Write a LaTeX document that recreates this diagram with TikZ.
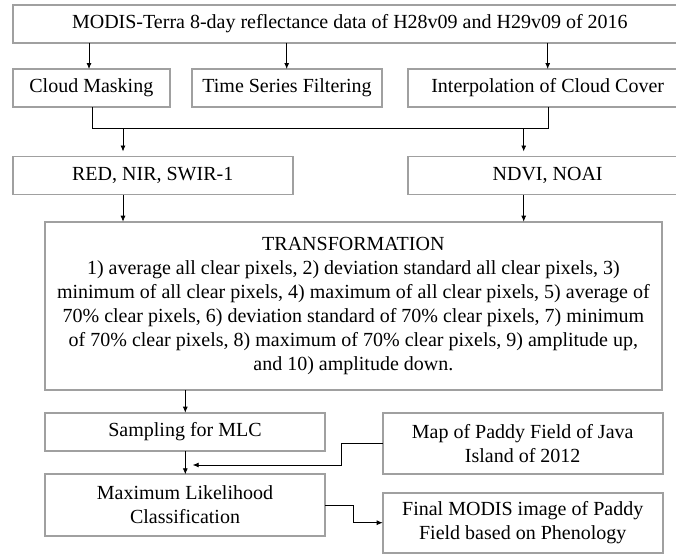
\documentclass[tikz,border=0pt]{standalone}
\usepackage{fontspec}
\setmainfont{Liberation Serif}
\newfontfamily\diagfont{Liberation Serif}
\usetikzlibrary{arrows.meta}
\definecolor{boxgray}{RGB}{160,160,160}
\begin{document}
\begin{tikzpicture}[x=1pt,y=-1pt,
  box/.style={draw=boxgray, line width=1.8pt, inner sep=0pt, outer sep=0pt,
              align=center, font=\diagfont\fontsize{20}{24}\selectfont},
  link/.style={line width=0.8pt, black},
  arr/.style={link, -{Latex[length=6pt,width=5pt]}}]
\useasboundingbox (0,0) rectangle (676,554);
\clip (0,0) rectangle (676,554);

% boxes
\node[box, minimum width=674.3pt, minimum height=37.7pt] (top) at (349.85,23.85)
  {MODIS-Terra 8-day reflectance data of H28v09 and H29v09 of 2016};
\node[box, minimum width=157.3pt, minimum height=38pt] (cloud) at (91.35,88) {Cloud Masking};
\node[box, minimum width=190.6pt, minimum height=38pt] (tsf) at (287,88) {Time Series Filtering};
\node[box, minimum width=278.7pt, minimum height=38pt] (interp) at (547.65,88) {Interpolation of Cloud Cover};
\node[box, minimum width=280pt, minimum height=38pt] (red) at (152.7,175.5) {RED, NIR, SWIR-1};
\node[box, minimum width=278.7pt, minimum height=38pt] (ndvi) at (547.65,175.5) {NDVI, NOAI};
\node[box, minimum width=616.7pt, minimum height=168.3pt] (trans) at (353.35,305.85)
  {TRANSFORMATION\\
   1) average all clear pixels, 2) deviation standard all clear pixels, 3)\\
   minimum of all clear pixels, 4) maximum of all clear pixels, 5) average of\\
   70\% clear pixels, 6) deviation standard of 70\% clear pixels, 7) minimum\\
   of 70\% clear pixels, 8) maximum of 70\% clear pixels, 9) amplitude up,\\
   and 10) amplitude down.};
\node[box, minimum width=280pt, minimum height=38.3pt] (samp) at (185,431.85) {Sampling for MLC};
\node[box, minimum width=280pt, minimum height=61.4pt] (mlc) at (185,505) {Maximum Likelihood\\Classification};
\node[box, minimum width=280pt, minimum height=61.6pt] (map) at (522.7,443.5) {Map of Paddy Field of Java\\Island of 2012};
\node[box, minimum width=280pt, minimum height=60pt] (final) at (522.7,522.7) {Final MODIS image of Paddy\\Field based on Phenology};

% connector guide positions
\coordinate (xa) at (89,0);
\coordinate (xb) at (286.7,0);
\coordinate (xc) at (547.7,0);
\coordinate (xd) at (92,0);
\coordinate (xe) at (548.7,0);
\coordinate (xf) at (123,0);
\coordinate (xg) at (523.7,0);
\coordinate (xh) at (185.3,0);
\coordinate (jy) at (0,128);
\coordinate (mapbend) at (341.7,0);
\coordinate (mlcbend) at (353.3,0);
\coordinate (mapend) at (192.7,465);

% top box to the three processing steps
\draw[arr] (top.south -| xa) -- (cloud.north -| xa);
\draw[arr] (top.south -| xb) -- (tsf.north -| xb);
\draw[arr] (top.south -| xc) -- (interp.north -| xc);

% merge of cloud masking and interpolation
\draw[link] (cloud.south -| xd) -- (jy -| xd) -- (jy -| xe) -- (interp.south -| xe);
\draw[arr, shorten >=5pt] (jy -| xf) -- (red.north -| xf);
\draw[arr, shorten >=5pt] (jy -| xg) -- (ndvi.north -| xg);

% into the transformation
\draw[arr] (red.south -| xf) -- (trans.north -| xf);
\draw[arr] (ndvi.south -| xg) -- (trans.north -| xg);

% classification chain
\draw[arr] (trans.south -| xh) -- (samp.north -| xh);
\draw[arr] (samp.south -| xh) -- (mlc.north -| xh);
\draw[arr] (map.west) -- (map.west -| mapbend) -- (mapend -| mapbend) -- (mapend);
\draw[arr] (mlc.east) -- (mlc.east -| mlcbend) -- (final.west -| mlcbend) -- (final.west);
\end{tikzpicture}
\end{document}
